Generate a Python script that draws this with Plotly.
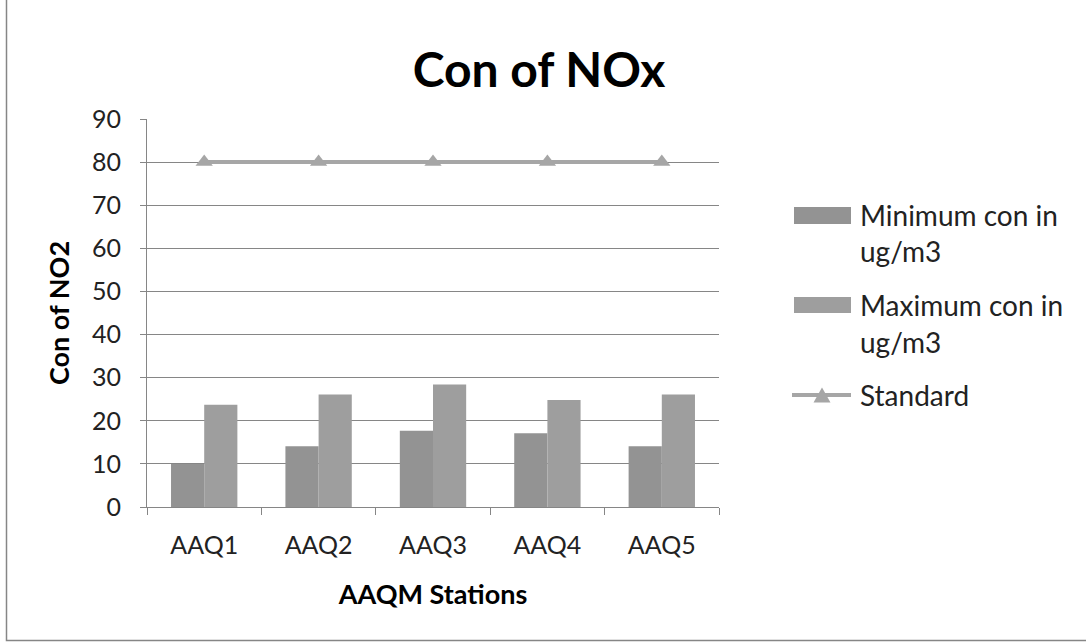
import plotly.graph_objects as go

stations = ["AAQ1", "AAQ2", "AAQ3", "AAQ4", "AAQ5"]
minimum_con = [10.0, 14.1, 17.7, 17.1, 14.1]
maximum_con = [23.7, 26.1, 28.4, 24.8, 26.1]
standard = [80, 80, 80, 80, 80]

legend_lines = [
    ["Minimum con in", "ug/m3"],
    ["Maximum con in", "ug/m3"],
    ["Standard"],
]

font_family = "Lato, 'Open Sans', sans-serif"
min_color = "#939393"
max_color = "#9e9e9e"
std_color = "#a6a6a6"
axis_color = "#868686"

fig = go.Figure()
fig.add_trace(go.Bar(x=stations, y=minimum_con, name="Minimum con in ug/m3",
                     marker=dict(color=min_color, line=dict(width=0)), showlegend=False))
fig.add_trace(go.Bar(x=stations, y=maximum_con, name="Maximum con in ug/m3",
                     marker=dict(color=max_color, line=dict(width=0)), showlegend=False))
fig.add_trace(go.Scatter(x=stations, y=standard, name="Standard", mode="lines+markers",
                         line=dict(color=std_color, width=4),
                         marker=dict(symbol="triangle-up", size=15, color=std_color),
                         showlegend=False))

W, H = 1086, 644
L, R, T, B = 147, 367, 119, 137
pw, ph = W - L - R, H - T - B


def px(x):
    return (x - L) / pw


def py(y):
    return (H - B - y) / ph


fig.update_layout(
    width=W, height=H,
    margin=dict(l=L, r=R, t=T, b=B),
    paper_bgcolor="white", plot_bgcolor="white",
    font=dict(family=font_family, size=25, color="#222222"),
    barmode="group", bargap=0.42, bargroupgap=0,
    title=dict(text="<b>Con of NOx</b>", x=539 / W, xanchor="center",
               y=1 - 70 / H, yanchor="middle",
               font=dict(size=48, color="black", family=font_family)),
    showlegend=False,
)
fig.update_xaxes(
    showline=True, linecolor=axis_color, linewidth=1,
    ticks="outside", ticklen=7, tickcolor=axis_color, tickson="boundaries",
    ticklabelstandoff=16, showgrid=False,
    tickfont=dict(size=25, color="#222222"),
    title=dict(text="<b>AAQM Stations</b>", font=dict(size=27, color="black"), standoff=27),
)
fig.update_yaxes(
    range=[0, 90], dtick=10,
    showline=True, linecolor=axis_color, linewidth=1,
    ticks="outside", ticklen=6, tickcolor=axis_color, ticklabelstandoff=14,
    showgrid=True, gridcolor=axis_color, gridwidth=1, zeroline=False,
    tickfont=dict(size=25, color="#222222"),
    title=dict(text="<b>Con of NO2</b>", font=dict(size=27, color="black"), standoff=14),
)

# legend: swatches, line sample and labels
swatch_x0, swatch_x1, text_x = 794, 851, 858
fig.add_shape(type="rect", xref="paper", yref="paper",
              x0=px(swatch_x0), x1=px(swatch_x1), y0=py(224), y1=py(207),
              fillcolor=min_color, line=dict(width=0))
fig.add_shape(type="rect", xref="paper", yref="paper",
              x0=px(swatch_x0), x1=px(swatch_x1), y0=py(313), y1=py(297),
              fillcolor=max_color, line=dict(width=0))
fig.add_shape(type="line", xref="paper", yref="paper",
              x0=px(792), x1=px(851), y0=py(395), y1=py(395),
              line=dict(color=std_color, width=4))
tri_cx, tri_cy, tri_h = 822, 395, 15
fig.add_shape(type="path", xref="paper", yref="paper",
              path=(f"M {px(tri_cx - 8.5)},{py(tri_cy + tri_h / 2)} "
                    f"L {px(tri_cx + 8.5)},{py(tri_cy + tri_h / 2)} "
                    f"L {px(tri_cx)},{py(tri_cy - tri_h / 2)} Z"),
              fillcolor=std_color, line=dict(width=0))

line_centres = [[215, 251], [305, 342], [395]]
for lines, centres in zip(legend_lines, line_centres):
    for text, cy in zip(lines, centres):
        fig.add_annotation(x=px(text_x), y=py(cy), xref="paper", yref="paper",
                           text=text, showarrow=False, xanchor="left", yanchor="middle",
                           font=dict(size=28, color="#222222", family=font_family))

# outer chart border
fig.add_shape(type="rect", xref="paper", yref="paper",
              x0=px(6.5), x1=px(W + 5), y0=py(640.5), y1=py(-5),
              line=dict(color=axis_color, width=1.5), layer="below")

fig.write_html("out.html")
